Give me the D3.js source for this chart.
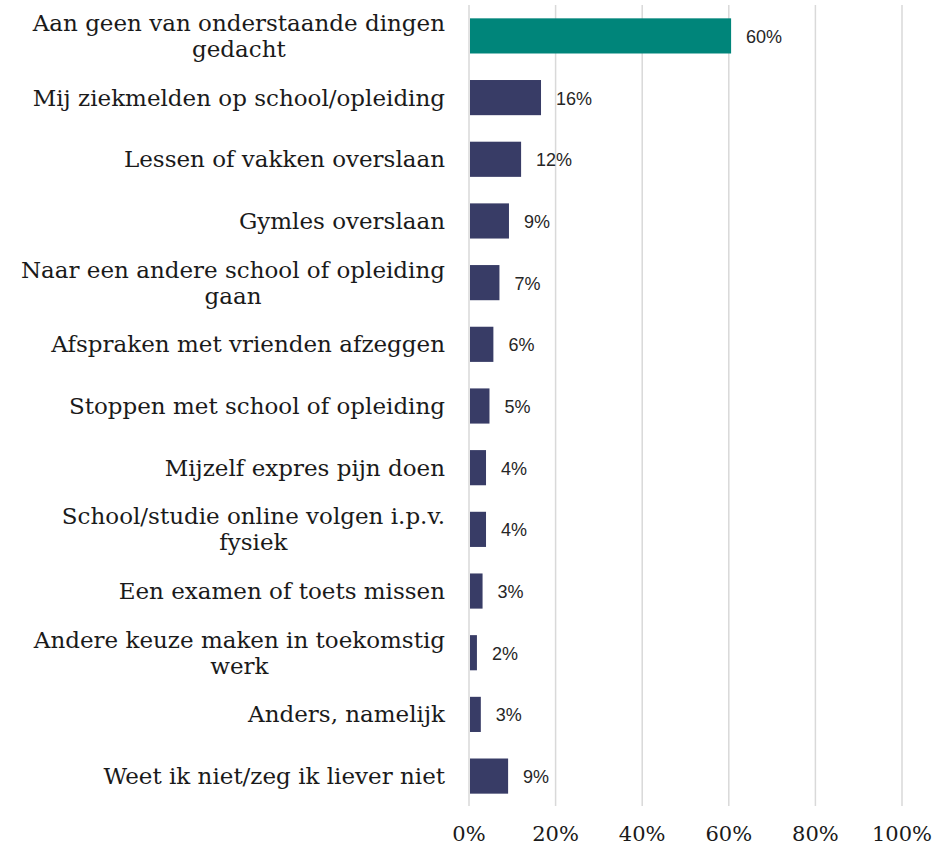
<!DOCTYPE html>
<html>
<head>
<meta charset="utf-8">
<script src="https://cdn.jsdelivr.net/npm/d3@7"></script>
<style>
  body { margin: 0; background: #fff; }
  .cat { font-family: "DejaVu Serif", serif; font-size: 23px; fill: #1a1a1a; }
  .tick-lbl { font-family: "DejaVu Serif", serif; font-size: 21px; fill: #1a1a1a; }
  .val { font-family: "Liberation Sans", Arial, sans-serif; font-size: 18px; fill: #262626; }
</style>
</head>
<body>
<script>
// categories (top to bottom), second line where the label wraps
const categories = [
    ["Aan geen van onderstaande dingen", "gedacht"],
    ["Mij ziekmelden op school/opleiding"],
    ["Lessen of vakken overslaan"],
    ["Gymles overslaan"],
    ["Naar een andere school of opleiding", "gaan"],
    ["Afspraken met vrienden afzeggen"],
    ["Stoppen met school of opleiding"],
    ["Mijzelf expres pijn doen"],
    ["School/studie online volgen i.p.v.", "fysiek"],
    ["Een examen of toets missen"],
    ["Andere keuze maken in toekomstig", "werk"],
    ["Anders, namelijk"],
    ["Weet ik niet/zeg ik liever niet"]
]
const values = [60.3, 16.4, 11.8, 9.0, 6.8, 5.4, 4.5, 3.7, 3.7, 2.9, 1.6, 2.5, 8.8]
const valueLabels = ["60%", "16%", "12%", "9%", "7%", "6%", "5%", "4%", "4%", "3%", "2%", "3%", "9%"]
const ticks = [0, 20, 40, 60, 80, 100]
const colors = values.map((v, i) => i === 0 ? "#00857a" : "#383c66")

const width = 936
const height = 849
const margin = { top: 6, left: 469, right: 34, bottom: 43 }

const svg = d3.select("body").append("svg")
    .attr("width", width)
    .attr("height", height)

const x = d3.scaleLinear()
    .domain([0, 100])
    .range([margin.left, width - margin.right])

const y = d3.scaleBand()
    .domain(d3.range(categories.length))
    .range([margin.top, height - margin.bottom])
    .paddingInner(0.43)
    .paddingOuter(0.2)

// gridlines
svg.append("g").selectAll("line")
    .data(ticks)
    .enter()
    .append("line")
    .attr("x1", d => x(d))
    .attr("x2", d => x(d))
    .attr("y1", margin.top - 1)
    .attr("y2", height - margin.bottom)
    .attr("stroke", "#d9d9d9")
    .attr("stroke-width", 1.5)

// tick labels
svg.append("g").selectAll("text")
    .data(ticks)
    .enter()
    .append("text")
    .attr("class", "tick-lbl")
    .attr("x", d => x(d))
    .attr("y", 841)
    .attr("text-anchor", "middle")
    .text(d => d + "%")

// bars
svg.append("g").selectAll("rect")
    .data(values)
    .enter()
    .append("rect")
    .attr("x", x(0) + 1)
    .attr("y", (d, i) => y(i))
    .attr("width", d => x(d) - x(0))
    .attr("height", y.bandwidth())
    .attr("fill", (d, i) => colors[i])

// value labels
svg.append("g").selectAll("text")
    .data(values)
    .enter()
    .append("text")
    .attr("class", "val")
    .attr("x", d => x(d) + 16)
    .attr("y", (d, i) => y(i) + y.bandwidth() / 2 + 7)
    .text((d, i) => valueLabels[i])

// category labels, wrapped ones centred under the first line
const labelRight = 445
const lineH = 26
categories.forEach((lines, i) => {
    const cy = y(i) + y.bandwidth() / 2
    const t = svg.append("text")
        .attr("class", "cat")
        .attr("text-anchor", "end")
        .attr("x", labelRight)
        .attr("y", cy + 8 - (lines.length - 1) * lineH / 2)
        .text(lines[0])
    if (lines.length > 1) {
        const w = t.node().getComputedTextLength()
        svg.append("text")
            .attr("class", "cat")
            .attr("text-anchor", "middle")
            .attr("x", labelRight - w / 2)
            .attr("y", cy + 8 + lineH / 2)
            .text(lines[1])
    }
})
</script>
</body>
</html>
